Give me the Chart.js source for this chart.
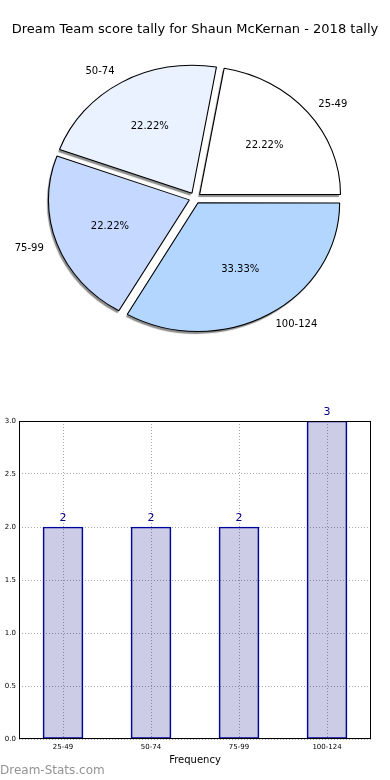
<!DOCTYPE html>
<html lang="en">
<head>
  <meta charset="UTF-8">
  <title>Dream Team score tally</title>
  <script src="https://cdn.jsdelivr.net/npm/chart.js"></script>
  <style>
    body {
      margin: 0;
      padding: 0;
      background: white;
      width: 390px;
      height: 780px;
      position: relative;
      overflow: hidden;
    }
    #pieChart {
      position: absolute;
      left: 0;
      top: 0;
    }
    #barChart {
      position: absolute;
      left: 0;
      top: 380px;
    }
    .watermark {
      position: absolute;
      left: 0;
      top: 764px;
      font-family: 'DejaVu Sans', sans-serif;
      font-size: 12px;
      line-height: 12px;
      color: #939393;
    }
  </style>
</head>
<body>

  <canvas id="pieChart" width="390" height="396"></canvas>
  <canvas id="barChart" width="390" height="400"></canvas>
  <div class="watermark">Dream-Stats.com</div>

  <script>
    // data
    const categories = ['25-49', '50-74', '75-99', '100-124'];
    const counts = [2, 2, 2, 3];
    const sliceColors = ['#ffffff', '#eaf1ff', '#c5d8ff', '#b3d6ff'];
    const yTicks = [0, 0.5, 1.0, 1.5, 2.0, 2.5, 3.0];

    Chart.defaults.font.family = "'DejaVu Sans', sans-serif";
    Chart.defaults.color = '#000';

    const total = counts.reduce((a, b) => a + b, 0);
    const stretchX = 1.1;   // pie is a bit wider than tall
    const explode = 22;      // chart.js divides arc offset by 4

    // pie is drawn counterclockwise from 3 o'clock, so feed it reversed
    const pieLabels = categories.slice().reverse();
    const pieValues = counts.slice().reverse();
    const pieColors = sliceColors.slice().reverse();

    const pieExtras = {
      id: 'pieExtras',
      beforeDatasetsDraw(chart) {
        const ctx = chart.ctx;
        const a = chart.getDatasetMeta(0).data[0];
        ctx.save();
        ctx.translate(a.x, a.y);
        ctx.scale(stretchX, 1);
        ctx.translate(-a.x, -a.y);
        ctx.shadowColor = 'rgba(0,0,0,0.45)';
        ctx.shadowOffsetX = -1.5;
        ctx.shadowOffsetY = 2.5;
        ctx.shadowBlur = 1;
        // shadow only under the fills, not the outlines
        const stroke = CanvasRenderingContext2D.prototype.stroke;
        ctx.stroke = function () {
          const c = this.shadowColor;
          this.shadowColor = 'rgba(0,0,0,0)';
          stroke.apply(this, arguments);
          this.shadowColor = c;
        };
      },
      afterDatasetsDraw(chart) {
        const ctx = chart.ctx;
        delete ctx.stroke;
        ctx.restore();
        const arcs = chart.getDatasetMeta(0).data;
        ctx.save();
        ctx.font = "10px 'DejaVu Sans'";
        ctx.fillStyle = '#000';
        ctx.textBaseline = 'middle';
        arcs.forEach((arc, i) => {
          const mid = (arc.startAngle + arc.endAngle) / 2;
          const off = explode / 4;
          const r = arc.outerRadius;
          const pos = f => {
            const d = r * f + off;
            return {
              x: arc.x + Math.cos(mid) * d * stretchX,
              y: arc.y + Math.sin(mid) * d
            };
          };
          const lp = pos(1.1);
          ctx.textAlign = Math.cos(mid) > 0 ? 'left' : 'right';
          ctx.fillText(pieLabels[i], lp.x, lp.y);
          const pp = pos(0.6);
          ctx.textAlign = 'center';
          ctx.fillText((pieValues[i] / total * 100).toFixed(2) + '%', pp.x, pp.y);
        });
        ctx.restore();
      }
    };

    new Chart(document.getElementById('pieChart'), {
      type: 'pie',
      data: {
        labels: pieLabels,
        datasets: [{
          data: pieValues,
          backgroundColor: pieColors,
          borderColor: '#000',
          borderWidth: 1,
          offset: explode
        }]
      },
      options: {
        responsive: false,
        animation: false,
        rotation: 90,
        radius: 128,
        layout: { padding: { bottom: 37.6 } },
        plugins: {
          legend: { display: false },
          tooltip: { enabled: false },
          title: {
            display: true,
            text: 'Dream Team score tally for Shaun McKernan - 2018 tally',
            font: { size: 13, weight: 'normal' },
            color: '#000',
            padding: { top: 22, bottom: 0 }
          }
        }
      },
      plugins: [pieExtras]
    });

    const barExtras = {
      id: 'barExtras',
      afterDatasetsDraw(chart) {
        const ctx = chart.ctx;
        const area = chart.chartArea;
        ctx.save();
        ctx.strokeStyle = '#000';
        ctx.lineWidth = 1;
        ctx.strokeRect(Math.round(area.left) + 0.5, Math.round(area.top) + 0.5,
          Math.round(area.right - area.left) - 1, Math.round(area.bottom - area.top) - 1);
        ctx.font = "11px 'DejaVu Sans'";
        ctx.fillStyle = '#000080';
        ctx.textAlign = 'center';
        ctx.textBaseline = 'bottom';
        chart.getDatasetMeta(0).data.forEach((bar, i) => {
          ctx.fillText(String(counts[i]), bar.x, bar.y - 3);
        });
        ctx.restore();
      }
    };

    new Chart(document.getElementById('barChart'), {
      type: 'bar',
      data: {
        labels: categories,
        datasets: [{
          data: counts,
          backgroundColor: 'rgba(0,0,128,0.2)',
          borderColor: '#0000a0',
          borderWidth: 1,
          borderSkipped: false,
          barThickness: 40,
          categoryPercentage: 1
        }]
      },
      options: {
        responsive: false,
        animation: false,
        layout: { padding: { top: 41, right: 19, left: 0, bottom: 0 } },
        plugins: {
          legend: { display: false },
          tooltip: { enabled: false }
        },
        scales: {
          x: {
            offset: true,
            grid: { offset: false, color: '#a8a8a8', drawTicks: false },
            border: { display: false, dash: [1, 2] },
            ticks: { font: { size: 7 }, color: '#000', padding: 4, maxRotation: 0 },
            title: {
              display: true,
              text: 'Frequency',
              font: { size: 10 },
              color: '#000',
              padding: { top: 0, bottom: 14 }
            },
            afterFit(scale) { scale.height = 41; }
          },
          y: {
            min: 0,
            max: 3,
            afterBuildTicks(scale) {
              scale.ticks = yTicks.map(v => ({ value: v }));
            },
            grid: { color: '#a8a8a8', drawTicks: false },
            border: { display: false, dash: [1, 2] },
            ticks: {
              font: { size: 7 },
              color: '#000',
              padding: 3,
              callback: v => Number(v).toFixed(1)
            },
            afterFit(scale) { scale.width = 19; }
          }
        }
      },
      plugins: [barExtras]
    });
  </script>
</body>
</html>
